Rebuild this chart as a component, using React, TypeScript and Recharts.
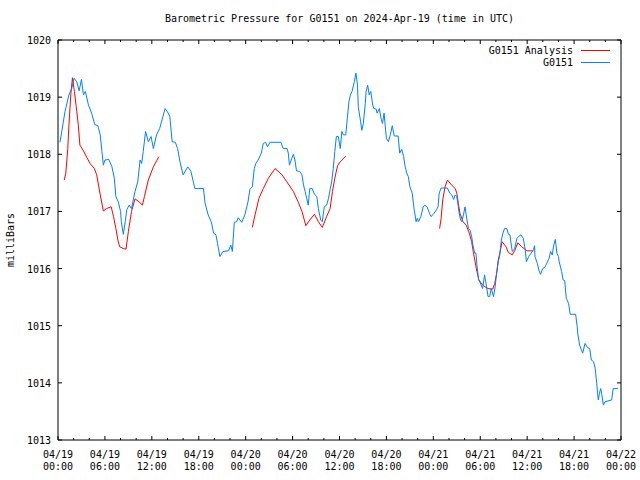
import { LineChart, Line, XAxis, YAxis, Legend } from "recharts";

/* ── Data ────────────────────────────────────────────────────── */

// hours since 2024-04-19 00:00 UTC
const stationHours = [
  0.25, 0.9, 1.4, 1.75, 2.05, 2.4, 2.7, 3.0, 3.25, 3.5, 3.9, 4.3, 4.7, 5.1, 5.4,
  5.6, 5.8, 6.0, 6.5, 6.9, 7.2, 7.4, 7.7, 8.0, 8.1, 8.35, 8.6, 8.8, 9.1, 9.4,
  9.85, 10.2, 10.5, 10.7, 10.9, 11.2, 11.55, 11.9, 12.2, 12.6, 13.0, 13.3, 13.7,
  14.1, 14.3, 14.6, 15.0, 15.3, 15.6, 16.0, 16.6, 17.0, 17.3, 17.5, 18.6, 18.8,
  19.2, 19.6, 19.9, 20.2, 20.4, 20.7, 21.1, 21.8, 22.1, 22.3, 22.55, 22.85, 23.05,
  23.5, 23.9, 24.3, 24.55, 24.85, 25.1, 25.3, 25.6, 26.0, 26.25, 26.55, 26.8,
  27.1, 28.5, 28.8, 29.3, 29.45, 29.6, 29.9, 30.1, 30.3, 30.5, 30.9, 31.2, 31.4,
  31.6, 31.8, 32.0, 32.2, 32.5, 32.8, 33.1, 33.3, 33.6, 33.8, 34.05, 34.35, 34.6,
  34.8, 35.0, 35.2, 35.4, 35.6, 35.85, 36.1, 36.3, 36.5, 36.8, 37.0, 37.2, 37.4,
  37.6, 37.9, 38.1, 38.3, 38.4, 38.7, 38.85, 39.05, 39.3, 39.4, 39.6, 39.8, 40.0,
  40.25, 40.4, 40.7, 40.8, 41.1, 41.3, 41.5, 41.7, 41.9, 42.0, 42.25, 42.5, 42.75,
  43.0, 43.5, 43.7, 43.95, 44.2, 44.4, 44.6, 44.8, 45.0, 45.3, 45.4, 45.55, 45.8,
  45.95, 46.1, 46.4, 46.7, 46.9, 47.2, 47.5, 47.7, 48.0, 48.4, 48.6, 48.75, 49.0,
  49.8, 50.1, 50.35, 50.6, 50.8, 51.0, 51.2, 51.3, 51.5, 51.65, 51.85, 52.05,
  52.3, 52.5, 52.7, 52.9, 53.1, 53.3, 53.45, 53.6, 53.8, 54.0, 54.3, 54.55, 54.7,
  55.0, 55.2, 55.4, 55.7, 55.9, 56.1, 56.3, 56.5, 56.7, 56.9, 57.1, 57.4, 57.6,
  57.8, 58.0, 58.1, 58.4, 58.7, 58.9, 59.2, 59.5, 59.75, 59.9, 60.2, 60.5, 60.8,
  60.95, 61.0, 61.3, 61.5, 61.7, 62.0, 62.3, 62.6, 62.8, 63.0, 63.2, 63.4, 63.6,
  63.8, 64.0, 64.1, 64.4, 64.6, 64.8, 65.0, 65.3, 65.5, 66.2, 66.4, 66.5, 66.7,
  66.9, 67.1, 67.4, 67.7, 68.0, 68.2, 68.5, 68.7, 68.9, 69.0, 69.1, 69.25, 69.4,
  69.55, 69.75, 69.95, 70.8, 71.0, 71.6,
];

const stationPressure = [
  1018.21, 1018.75, 1019.04, 1019.15, 1019.33, 1019.27, 1019.11, 1019.31, 1019.04,
  1019.1, 1018.86, 1018.72, 1018.52, 1018.5, 1018.34, 1018.07, 1017.81, 1017.9,
  1017.91, 1017.78, 1017.58, 1017.26, 1017.17, 1017.0, 1016.82, 1016.6, 1016.82,
  1017.03, 1017.11, 1017.05, 1017.35, 1017.52, 1017.9, 1017.84, 1018.05, 1018.4,
  1018.22, 1018.31, 1018.1, 1018.34, 1018.45, 1018.6, 1018.8, 1018.72, 1018.66,
  1018.22, 1018.21, 1018.1, 1017.87, 1017.64, 1017.78, 1017.7, 1017.52, 1017.4,
  1017.4, 1017.15, 1016.94, 1016.82, 1016.62, 1016.59, 1016.44, 1016.21, 1016.3,
  1016.31, 1016.41, 1016.3, 1016.81, 1016.82, 1016.89, 1016.81, 1016.94, 1017.17,
  1017.39, 1017.43, 1017.75, 1017.84, 1017.9, 1018.02, 1018.19, 1018.21, 1018.13,
  1018.21, 1018.21, 1018.1, 1018.1, 1018.02, 1017.81, 1017.93, 1018.0, 1017.9,
  1017.71, 1017.7, 1017.64, 1017.46, 1017.35, 1017.23, 1017.11, 1017.4, 1017.4,
  1017.3, 1017.26, 1017.05, 1016.85, 1016.82, 1017.08, 1017.11, 1017.23, 1017.38,
  1017.52, 1017.75, 1018.05, 1018.31, 1018.31, 1018.1, 1018.4, 1018.34, 1018.34,
  1018.63, 1018.92, 1019.04, 1019.1, 1019.27, 1019.42, 1019.21, 1018.83, 1018.57,
  1018.42, 1018.54, 1018.89, 1019.1, 1019.21, 1019.04, 1019.1, 1018.86, 1018.8,
  1018.79, 1018.72, 1018.8, 1018.63, 1018.54, 1018.72, 1018.42, 1018.28, 1018.22,
  1018.34, 1018.5, 1018.32, 1018.32, 1018.02, 1018.09, 1017.96, 1017.78, 1017.67,
  1017.61, 1017.43, 1017.32, 1017.2, 1017.03, 1016.82, 1016.88, 1016.82, 1016.91,
  1017.08, 1017.11, 1017.08, 1016.97, 1016.91, 1016.95, 1017.03, 1017.08, 1017.32,
  1017.41, 1017.41, 1017.32, 1017.29, 1017.21, 1017.29, 1017.26, 1017.08, 1016.97,
  1016.85, 1016.82, 1016.94, 1017.08, 1016.85, 1016.7, 1016.67, 1016.56, 1016.38,
  1016.27, 1016.27, 1016.03, 1015.8, 1015.75, 1015.65, 1015.89, 1015.77, 1015.51,
  1015.51, 1015.65, 1015.51, 1015.68, 1015.92, 1016.12, 1016.24, 1016.5, 1016.62,
  1016.7, 1016.7, 1016.6, 1016.59, 1016.38, 1016.3, 1016.35, 1016.53, 1016.56,
  1016.59, 1016.53, 1016.33, 1016.12, 1016.21, 1016.27, 1016.33, 1016.4, 1016.21,
  1016.09, 1015.97, 1015.9, 1016.0, 1016.03, 1016.12, 1016.18, 1016.3, 1016.24,
  1016.41, 1016.51, 1016.27, 1016.21, 1016.12, 1015.95, 1015.8, 1015.79, 1015.48,
  1015.39, 1015.2, 1015.2, 1014.98, 1014.84, 1014.66, 1014.59, 1014.52, 1014.69,
  1014.62, 1014.6, 1014.4, 1014.37, 1014.25, 1013.99, 1013.82, 1013.7, 1013.82,
  1013.9, 1013.79, 1013.61, 1013.67, 1013.7, 1013.9, 1013.9,
];

// analysis runs (three separate pieces, gaps in between)
const analysisHoursA = [
  0.8, 1.0, 1.25, 1.4, 1.65, 1.85, 2.1, 2.4, 2.6, 2.8, 3.25, 3.7, 4.1, 4.65, 4.95,
  5.4, 5.8, 6.2, 6.8, 7.1, 7.4, 7.7, 7.9, 8.35, 8.7, 9.0, 9.4, 9.85, 10.35, 10.8,
  11.05, 11.55, 12.2, 12.9,
];
const analysisPressureA = [
  1017.55, 1017.67, 1018.1, 1018.51, 1019.07, 1019.34, 1019.1, 1018.75, 1018.51,
  1018.16, 1018.06, 1017.94, 1017.84, 1017.75, 1017.64, 1017.29, 1017.01, 1017.05,
  1017.08, 1016.91, 1016.7, 1016.47, 1016.38, 1016.35, 1016.34, 1016.65, 1017.0,
  1017.22, 1017.17, 1017.11, 1017.26, 1017.55, 1017.78, 1017.96,
];

const analysisHoursB = [
  24.85, 25.2, 25.7, 26.25, 26.9, 27.75, 28.6, 29.25, 30.1, 30.7, 31.2, 31.7, 32.2,
  32.8, 33.3, 33.8, 34.35, 34.8, 35.1, 35.4, 35.75, 36.1, 36.8,
];
const analysisPressureB = [
  1016.72, 1016.94, 1017.23, 1017.4, 1017.58, 1017.75, 1017.65, 1017.52, 1017.35,
  1017.17, 1017.0, 1016.75, 1016.85, 1016.95, 1016.82, 1016.72, 1016.91, 1017.05,
  1017.35, 1017.58, 1017.8, 1017.87, 1017.97,
];

const analysisHoursC = [
  48.8, 49.0, 49.2, 49.5, 49.8, 50.35, 50.8, 51.0, 51.2, 51.4, 51.8, 52.2, 52.6,
  52.9, 53.1, 53.5, 53.8, 54.2, 54.6, 55.0, 55.6, 55.85, 56.1, 56.3, 56.5, 56.8,
  57.3, 57.6, 58.1, 58.4, 58.8, 59.3, 60.0, 60.8,
];
const analysisPressureC = [
  1016.7, 1016.88, 1017.2, 1017.43, 1017.55, 1017.46, 1017.4, 1017.32, 1017.14,
  1016.97, 1016.82, 1016.76, 1016.62, 1016.47, 1016.3, 1016.0, 1015.81, 1015.73,
  1015.68, 1015.65, 1015.64, 1015.74, 1015.92, 1016.15, 1016.27, 1016.47, 1016.38,
  1016.28, 1016.24, 1016.31, 1016.45, 1016.38, 1016.31, 1016.31,
];

const hourTicks = [
  0, 2, 4, 6, 8, 10, 12, 14, 16, 18, 20, 22, 24, 26, 28, 30, 32, 34, 36, 38, 40,
  42, 44, 46, 48, 50, 52, 54, 56, 58, 60, 62, 64, 66, 68, 70, 72,
];
const pressureTicks = [1013, 1014, 1015, 1016, 1017, 1018, 1019, 1020];
const dayLabels = ["04/19", "04/20", "04/21", "04/22"];

const STATION = "G0151";
const TITLE = `Barometric Pressure for ${STATION} on 2024-Apr-19 (time in UTC)`;

/* ── Styling ─────────────────────────────────────────────────── */

const FONT = "'DejaVu Sans Mono', monospace";
const RED = "#ff0000";
const BLUE = "#0080ff";

const toRows = (hours: number[], values: number[]) =>
  hours.map((h, i) => ({ h, p: values[i] }));

const stationRows = toRows(stationHours, stationPressure);
const analysisPieces = [
  toRows(analysisHoursA, analysisPressureA),
  toRows(analysisHoursB, analysisPressureB),
  toRows(analysisHoursC, analysisPressureC),
];

const isMajor = (h: number) => h % 6 === 0;
const timeLabel = (h: number) => `${String(h % 24).padStart(2, "0")}:00`;

/* ── Tick renderers (gnuplot-ish, inward ticks) ──────────────── */

function BottomTick({ x, y, payload }: any) {
  const h = payload.value;
  return (
    <g>
      <line x1={x} y1={y} x2={x} y2={y - (isMajor(h) ? 4 : 2)} stroke="#000" />
      {isMajor(h) && (
        <text x={x} y={y} textAnchor="middle" fontFamily={FONT} fontSize={10} fill="#000">
          <tspan x={x} dy={17.5}>{dayLabels[Math.floor(h / 24)]}</tspan>
          <tspan x={x} dy={12.5}>{timeLabel(h)}</tspan>
        </text>
      )}
    </g>
  );
}

function TopTick({ x, y, payload }: any) {
  const h = payload.value;
  return <line x1={x} y1={y} x2={x} y2={y + (isMajor(h) ? 4 : 2)} stroke="#000" />;
}

function LeftTick({ x, y, payload }: any) {
  return (
    <g>
      <line x1={x} y1={y} x2={x + 4} y2={y} stroke="#000" />
      <text x={x - 7} y={y + 4} textAnchor="end" fontFamily={FONT} fontSize={10} fill="#000">
        {payload.value}
      </text>
    </g>
  );
}

function RightTick({ x, y }: any) {
  return <line x1={x} y1={y} x2={x - 4} y2={y} stroke="#000" />;
}

function KeyBox() {
  const rows = [
    { name: `${STATION} Analysis`, color: RED },
    { name: STATION, color: BLUE },
  ];
  return (
    <svg width={190} height={28} style={{ display: "block" }}>
      {rows.map((r, i) => (
        <g key={r.name}>
          <text
            x={143}
            y={12 + i * 12}
            textAnchor="end"
            fontFamily={FONT}
            fontSize={10}
            fill="#000"
          >
            {r.name}
          </text>
          <line x1={151} x2={180} y1={8.5 + i * 12} y2={8.5 + i * 12} stroke={r.color} />
        </g>
      ))}
    </svg>
  );
}

/* ── Chart ───────────────────────────────────────────────────── */

export default function App() {
  return (
    <div style={{ position: "absolute", left: 0, top: 0, width: 640, height: 480, background: "#fff" }}>
      <div
        style={{
          position: "absolute",
          left: 58,
          width: 563,
          top: 12,
          textAlign: "center",
          fontFamily: FONT,
          fontSize: 10,
          lineHeight: "14px",
          whiteSpace: "pre",
        }}
      >
        {TITLE}
      </div>
      <div
        style={{
          position: "absolute",
          left: 11,
          top: 240,
          transform: "translate(-50%, -50%) rotate(-90deg)",
          fontFamily: FONT,
          fontSize: 10,
          lineHeight: "12px",
          whiteSpace: "pre",
        }}
      >
        milliBars
      </div>
      {/* top/right axes need a 1px box or recharts skips drawing them */}
      <LineChart width={640} height={480} margin={{ top: 39, right: 18, bottom: 0, left: 0 }}>
        <XAxis
          xAxisId="b"
          type="number"
          dataKey="h"
          domain={[0, 72]}
          ticks={hourTicks}
          interval={0}
          allowDataOverflow
          height={40}
          tickSize={0}
          tickMargin={0}
          tickLine={false}
          axisLine={{ stroke: "#000" }}
          tick={<BottomTick />}
        />
        <XAxis
          xAxisId="t"
          orientation="top"
          type="number"
          dataKey="h"
          domain={[0, 72]}
          ticks={hourTicks}
          interval={0}
          allowDataOverflow
          height={1}
          tickSize={0}
          tickMargin={0}
          tickLine={false}
          axisLine={{ stroke: "#000" }}
          tick={<TopTick />}
        />
        <YAxis
          yAxisId="l"
          type="number"
          domain={[1013, 1020]}
          ticks={pressureTicks}
          interval={0}
          allowDataOverflow
          width={58}
          tickSize={0}
          tickMargin={0}
          tickLine={false}
          axisLine={{ stroke: "#000" }}
          tick={<LeftTick />}
        />
        <YAxis
          yAxisId="r"
          orientation="right"
          type="number"
          domain={[1013, 1020]}
          ticks={pressureTicks}
          interval={0}
          allowDataOverflow
          width={1}
          tickSize={0}
          tickMargin={0}
          tickLine={false}
          axisLine={{ stroke: "#000" }}
          tick={<RightTick />}
        />
        <Legend
          layout="horizontal"
          verticalAlign="middle"
          align="center"
          wrapperStyle={{ top: 42, left: 430, width: 190 }}
          content={() => <KeyBox />}
        />
        {/* invisible copy so the mirrored top/right axes have a series */}
        <Line
          xAxisId="t"
          yAxisId="r"
          data={stationRows}
          dataKey="p"
          stroke="none"
          dot={false}
          activeDot={false}
          legendType="none"
          isAnimationActive={false}
        />
        {analysisPieces.map((rows, i) => (
          <Line
            key={`analysis-${i}`}
            xAxisId="b"
            yAxisId="l"
            data={rows}
            dataKey="p"
            type="linear"
            stroke={RED}
            strokeWidth={1}
            dot={false}
            activeDot={false}
            isAnimationActive={false}
          />
        ))}
        <Line
          xAxisId="b"
          yAxisId="l"
          data={stationRows}
          dataKey="p"
          type="linear"
          stroke={BLUE}
          strokeWidth={1}
          dot={false}
          activeDot={false}
          isAnimationActive={false}
        />
      </LineChart>
    </div>
  );
}
